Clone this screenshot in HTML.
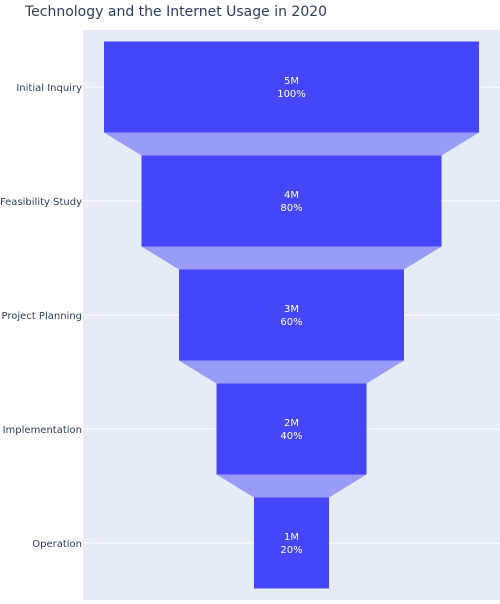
<!DOCTYPE html>
<html><head><meta charset="utf-8"><style>
body{margin:0;background:#fff;width:500px;height:600px;overflow:hidden;font-family:"DejaVu Sans",sans-serif}
</style></head><body>
<svg id="chart" width="500" height="600" xmlns="http://www.w3.org/2000/svg" font-family="DejaVu Sans, sans-serif">
<rect x="0" y="0" width="500" height="600" fill="#fff"/>
<rect x="83" y="30" width="417" height="570" fill="#e5ecf6"/>
<text x="25" y="16" font-size="14" fill="#2a3f5f">Technology and the Internet Usage in 2020</text>
<g id="grid"></g><g id="conn"></g><g id="bars"></g><g id="labels"></g>
</svg>
<script>
const stages = ["Initial Inquiry","Feasibility Study","Project Planning","Implementation","Operation"];
const values = [5,4,3,2,1];
const valueLabels = ["5M","4M","3M","2M","1M"];
const percentLabels = ["100%","80%","60%","40%","20%"];
const NS="http://www.w3.org/2000/svg";
const cx=291.5, pxPer=75, top0=87, step=114, bh=91;
const xl=v=>cx-v*pxPer/2, xr=v=>cx+v*pxPer/2, yc=i=>top0+i*step;
function mk(tag,attrs,parent){const e=document.createElementNS(NS,tag);for(const k in attrs)e.setAttribute(k,attrs[k]);document.getElementById(parent).appendChild(e);return e;}
stages.forEach((s,i)=>{
  const g=mk('line',{x1:83,x2:500,y1:yc(i),y2:yc(i),stroke:'#fff','stroke-width':1},'grid');
  
  
  const t=mk('text',{x:82,y:yc(i)+4,'text-anchor':'end','font-size':10,fill:'#2a3f5f'},'labels');
  t.textContent=s;
  
  
  const v=values[i];
  const r=mk('rect',{x:xl(v),y:yc(i)-bh/2,width:xr(v)-xl(v),height:bh,fill:'#4545fb'},'bars');
  
  
  if(i<stages.length-1){
    const n=values[i+1], y1=yc(i)+bh/2, y2=yc(i+1)-bh/2;
    const p=mk('polygon',{points:`${xl(v)},${y1} ${xr(v)},${y1} ${xr(n)},${y2} ${xl(n)},${y2}`,fill:'#9a9af9'},'conn');
    
    
  }
  const l1=mk('text',{x:cx,y:yc(i)-3,'text-anchor':'middle','font-size':10,fill:'#fff'},'labels');
  l1.textContent=valueLabels[i];
  
  
  const l2=mk('text',{x:cx,y:yc(i)+10,'text-anchor':'middle','font-size':10,fill:'#fff'},'labels');
  l2.textContent=percentLabels[i];
  
  
});
</script>
</body></html>
